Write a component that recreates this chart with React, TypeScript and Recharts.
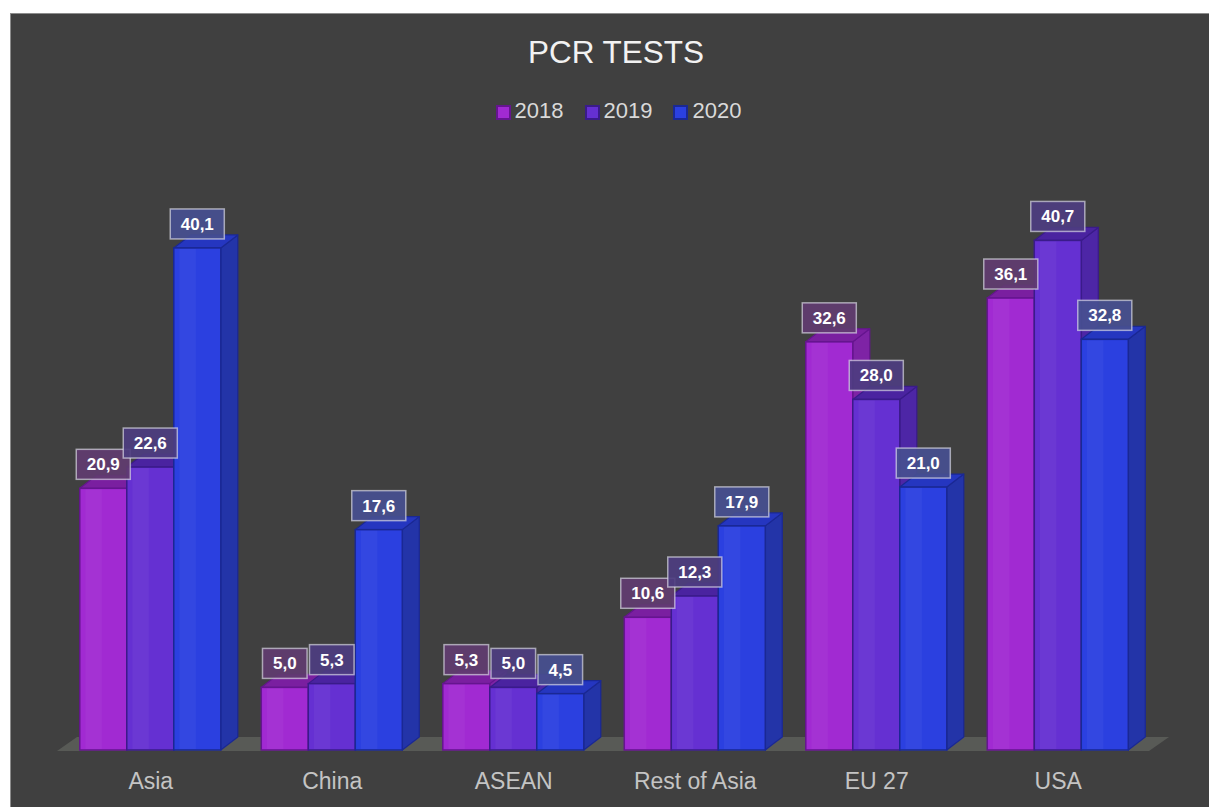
import React from 'react';
import { BarChart, Bar, XAxis, YAxis, LabelList, ReferenceArea } from 'recharts';

const title = 'PCR TESTS';
const categories = ['Asia', 'China', 'ASEAN', 'Rest of Asia', 'EU 27', 'USA'];
const seriesNames = ['2018', '2019', '2020'];
const values2018 = [20.9, 5.0, 5.3, 10.6, 32.6, 36.1];
const values2019 = [22.6, 5.3, 5.0, 12.3, 28.0, 40.7];
const values2020 = [40.1, 17.6, 4.5, 17.9, 21.0, 32.8];

const seriesValues = [values2018, values2019, values2020];

const data = categories.map((c, i) => {
  const row: any = { category: c };
  seriesNames.forEach((s, k) => {
    row[s] = seriesValues[k][i];
  });
  return row;
});

const styles = [
  { front: '#a12ad2', top: '#7a1fa0', side: '#7e23a5', stroke: '#65158f', label: '#613c70' },
  { front: '#6530d2', top: '#4a23a0', side: '#4d26a6', stroke: '#3a1b8a', label: '#4d3d80' },
  { front: '#2b40e0', top: '#2536c0', side: '#2334a8', stroke: '#1a2894', label: '#474f90' },
];

const DX = 17;
const DY = 13;
const FONT = '"Liberation Sans", Arial, Helvetica, sans-serif';

const fmt = (v: number) => v.toFixed(1).replace('.', ',');

const makeShape = (st: any) => (props: any) => {
  const { x, y, width: w, height: h } = props;
  if (w == null || h == null || isNaN(x) || isNaN(y)) return <g />;
  return (
    <g>
      <polygon
        points={`${x + w},${y} ${x + w + DX},${y - DY} ${x + w + DX},${y + h - DY} ${x + w},${y + h}`}
        fill={st.side}
        stroke={st.stroke}
        strokeWidth={1.2}
        strokeLinejoin="round"
      />
      <polygon
        points={`${x},${y} ${x + DX},${y - DY} ${x + w + DX},${y - DY} ${x + w},${y}`}
        fill={st.top}
        stroke={st.stroke}
        strokeWidth={1.2}
        strokeLinejoin="round"
      />
      <rect x={x} y={y} width={w} height={h} fill={st.front} stroke={st.stroke} strokeWidth={1.5} />
      <rect x={x + w * 0.12} y={y + 1} width={w * 0.35} height={Math.max(0, h - 2)} fill="#ffffff" opacity={0.04} />
    </g>
  );
};

const makeLabel = (st: any) => (props: any) => {
  const { x, y, width, value } = props;
  if (value == null) return null;
  const s = fmt(Number(value));
  let tw = 0;
  for (const ch of s) tw += ch === ',' ? 4.7 : 9.45;
  const bw = tw + 21;
  const cx = x + width / 2;
  const bottom = y - 9;
  return (
    <g>
      <rect
        x={cx - bw / 2}
        y={bottom - 30}
        width={bw}
        height={30}
        fill={st.label}
        fillOpacity={0.92}
        stroke="rgba(225,225,235,0.65)"
        strokeWidth={1.5}
      />
      <text
        x={cx}
        y={bottom - 9}
        textAnchor="middle"
        fill="#ffffff"
        fontSize={17}
        fontWeight="bold"
        fontFamily={FONT}
      >
        {s}
      </text>
    </g>
  );
};

const FloorShape = (props: any) => {
  const { x, y, width, height } = props;
  if (isNaN(x) || isNaN(y)) return <g />;
  const base = y + height + 1;
  return (
    <polygon
      points={`${x - 3},${base} ${x + width},${base} ${x + width + DX + 3},${base - DY - 1} ${x + DX},${base - DY - 1}`}
      fill="#585a56"
    />
  );
};

const Tick = (props: any) => {
  const { x, y, payload } = props;
  return (
    <text x={x} y={y + 39} textAnchor="middle" fill="#c4c4c4" fontSize={23} fontFamily={FONT}>
      {payload.value}
    </text>
  );
};

export default function App() {
  return (
    <div
      style={{
        position: 'fixed',
        left: 10,
        top: 13,
        width: 1210,
        height: 800,
        background: '#404040',
        borderLeft: '1px solid #8c8c8c',
        borderTop: '1px solid #8c8c8c',
        fontFamily: FONT,
        overflow: 'hidden',
      }}
    >
      <div
        style={{
          position: 'absolute',
          left: 0,
          top: 23,
          width: 1210,
          textAlign: 'center',
          fontSize: 31.5,
          lineHeight: '30px',
          color: '#f2f2f2',
        }}
      >
        {title}
      </div>
      <div
        style={{
          position: 'absolute',
          left: 0,
          top: 86,
          width: 1215,
          display: 'flex',
          justifyContent: 'center',
          alignItems: 'center',
          fontSize: 22,
          lineHeight: '22px',
          color: '#d9d9d9',
        }}
      >
        {seriesNames.map((s, k) => (
          <div key={s} style={{ display: 'flex', alignItems: 'center', marginRight: k < seriesNames.length - 1 ? 21 : 0 }}>
            <div
              style={{
                width: 11,
                height: 11,
                background: styles[k].front,
                border: `2px solid ${styles[k].stroke}`,
                marginRight: 4,
                marginTop: 3,
              }}
            />
            <span>{s}</span>
          </div>
        ))}
      </div>
      <BarChart
        width={1198}
        height={793}
        data={data}
        margin={{ top: 110, right: 60, bottom: 0, left: 49 }}
        barCategoryGap="10.9%"
        barGap={0}
      >
        <XAxis
          dataKey="category"
          axisLine={false}
          tickLine={false}
          tickSize={0}
          tickMargin={0}
          height={57}
          tick={<Tick />}
          interval={0}
        />
        <YAxis hide domain={[0, 50]} />
        <ReferenceArea y1={0} y2={1} shape={<FloorShape />} ifOverflow="visible" />
        {seriesNames.map((s, k) => (
          <Bar key={s} dataKey={s} isAnimationActive={false} shape={makeShape(styles[k])}>
            <LabelList dataKey={s} content={makeLabel(styles[k])} />
          </Bar>
        ))}
      </BarChart>
    </div>
  );
}
